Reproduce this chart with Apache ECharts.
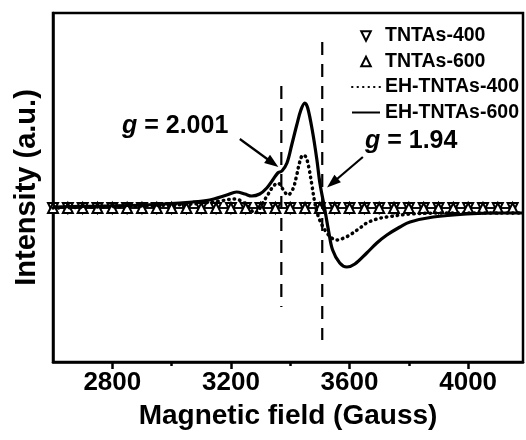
<!DOCTYPE html>
<html>
<head>
<meta charset="utf-8">
<script src="https://cdn.jsdelivr.net/npm/echarts@6/dist/echarts.min.js"></script>
<style>
  html, body { margin: 0; padding: 0; background: #fff; }
  #chart { width: 526px; height: 440px; }
</style>
</head>
<body>
<div id="chart"></div>
<script>
// EPR spectra: intensity (a.u.) versus magnetic field (Gauss)

// Reference samples (flat, no signal), one marker every 50 G
const fieldTNTAs = [2600, 2650, 2700, 2750, 2800, 2850, 2900, 2950, 3000, 3050, 3100, 3150,
  3200, 3250, 3300, 3350, 3400, 3450, 3500, 3550, 3600, 3650, 3700, 3750, 3800, 3850,
  3900, 3950, 4000, 4050, 4100, 4150];
const intTNTAs400 = [0, 0, 0, 0, 0, 0, 0, 0, 0, 0, 0, 0, 0, 0, 0, 0, 0, 0, 0, 0, 0, 0, 0, 0, 0, 0, 0, 0, 0, 0, 0, 0];
const intTNTAs600 = [0, 0, 0, 0, 0, 0, 0, 0, 0, 0, 0, 0, 0, 0, 0, 0, 0, 0, 0, 0, 0, 0, 0, 0, 0, 0, 0, 0, 0, 0, 0, 0];

// EH-TNTAs-400
const fieldEH400 = [2600, 2757, 2902, 3071, 3163, 3213, 3240, 3263, 3280, 3294, 3307, 3324,
  3341, 3358, 3375, 3392, 3409, 3422, 3432, 3443, 3453, 3463, 3473, 3483, 3493, 3507,
  3524, 3540, 3557, 3581, 3601, 3635, 3658, 3692, 3726, 3804, 3939, 4107, 4185];
const intEH400 = [0, 1, 2, 4, 7, 9, 6, 0, -5, -2, 5, 13,
  21, 25, 19, 13, 19, 33, 46, 53, 51, 40, 23, 5, -7, -17,
  -25, -30, -32, -30, -27, -20, -15, -11, -9, -6, -5, -5, -5];

// EH-TNTAs-600
const fieldEH600 = [2600, 2757, 2902, 3071, 3128, 3186, 3219, 3247, 3270, 3297, 3321, 3341,
  3358, 3372, 3389, 3405, 3422, 3436, 3449, 3459, 3476, 3490, 3500, 3517, 3530, 3543,
  3567, 3591, 3618, 3658, 3692, 3726, 3770, 3804, 3882, 3996, 4107, 4185];
const intEH600 = [1, 2, 3, 6, 8, 13, 16, 14, 12, 14, 20, 28,
  35, 37, 45, 63, 83, 98, 105, 100, 75, 48, 25, -2, -24, -42,
  -55, -59, -56, -45, -35, -27, -19, -14, -9, -6, -5, -5];

// g-factor guide lines (field, intensity span)
const gLineField = [3370, 3508];
const gLineTop = [122, 166];
const gLineBottom = [-99, -132];

// Annotation arrows: [fromField, fromInt, toField, toInt]
const arrowLeft = [3230, 69, 3341, 45];
const arrowRight = [3645, 51, 3542, 25];

const majorTicks = [2800, 3200, 3600, 4000];
const minorTicks = [3000, 3400, 3800];

const FONT = '"Liberation Sans", Arial, Helvetica, sans-serif';
const zip = (xs, ys) => xs.map((x, i) => [x, ys[i]]);

function arrowMarkLine(a) {
  return {
    silent: true,
    symbol: ['none', 'triangle'],
    symbolSize: [10, 14],
    label: { show: false },
    lineStyle: { color: '#000', width: 2.2, type: 'solid' },
    data: [[{ coord: [a[0], a[1]] }, { coord: [a[2], a[3]] }]]
  };
}

const chart = echarts.init(document.getElementById('chart'));
chart.setOption({
  animation: false,
  backgroundColor: '#fff',
  grid: {
    left: 53, right: 3, top: 13, bottom: 78,
    show: true, borderColor: '#000', borderWidth: 2.5,
    outerBoundsMode: 'none', containLabel: false
  },
  legend: {
    orient: 'vertical',
    left: 346, top: 21,
    itemGap: 5.5, itemWidth: 28, itemHeight: 12,
    selectedMode: false,
    textStyle: { fontFamily: FONT, fontSize: 19.5, fontWeight: 'bold', color: '#000' },
    data: [
      { name: 'TNTAs-400', lineStyle: { opacity: 0, width: 0 } },
      { name: 'TNTAs-600', lineStyle: { opacity: 0, width: 0 } },
      { name: 'EH-TNTAs-400', itemStyle: { opacity: 0 } },
      { name: 'EH-TNTAs-600', itemStyle: { opacity: 0 } }
    ]
  },
  xAxis: [
    {
      type: 'value', min: 2600, max: 4185, position: 'bottom',
      axisLine: { show: true, onZero: false, lineStyle: { color: '#000', width: 2.5 } },
      axisTick: { show: true, customValues: majorTicks, length: 7, lineStyle: { color: '#000', width: 2.5 } },
      axisLabel: {
        customValues: majorTicks, margin: 8, color: '#000',
        fontFamily: FONT, fontSize: 26, fontWeight: 'bold',
        formatter: (v) => String(v)
      },
      splitLine: { show: false },
      name: 'Magnetic field (Gauss)', nameLocation: 'middle', nameGap: 40,
      nameTextStyle: { fontFamily: FONT, fontSize: 28, fontWeight: 'bold', color: '#000' }
    },
    {
      type: 'value', min: 2600, max: 4185, position: 'bottom',
      axisLine: { show: false, onZero: false },
      axisTick: { show: true, customValues: minorTicks, length: 4, lineStyle: { color: '#000', width: 2.5 } },
      axisLabel: { show: false },
      splitLine: { show: false }
    }
  ],
  yAxis: {
    type: 'value', min: -154, max: 195,
    axisLine: { show: true, onZero: false, lineStyle: { color: '#000', width: 2.5 } },
    axisTick: { show: false },
    axisLabel: { show: false },
    splitLine: { show: false },
    name: 'Intensity (a.u.)', nameLocation: 'middle', nameGap: 12,
    nameTextStyle: { fontFamily: FONT, fontSize: 29, fontWeight: 'bold', color: '#000' }
  },
  series: [
    {
      name: 'TNTAs-400', type: 'line', z: 2,
      data: zip(fieldTNTAs, intTNTAs400),
      symbol: 'emptyTriangle', symbolRotate: 180, symbolSize: 10, showSymbol: true,
      lineStyle: { color: '#000', width: 1.5 },
      itemStyle: { color: '#000', borderWidth: 1.5 }
    },
    {
      name: 'TNTAs-600', type: 'line', z: 2,
      data: zip(fieldTNTAs, intTNTAs600),
      symbol: 'emptyTriangle', symbolSize: 10, showSymbol: true,
      lineStyle: { color: '#000', width: 1.5 },
      itemStyle: { color: '#000', borderWidth: 1.5 }
    },
    {
      name: 'EH-TNTAs-400', type: 'line', z: 3,
      data: zip(fieldEH400, intEH400),
      symbol: 'none', smooth: 0.35,
      lineStyle: { color: '#000', width: 3.5, type: [0.5, 5], cap: 'round' },
      itemStyle: { color: '#000' }
    },
    {
      name: 'EH-TNTAs-600', type: 'line', z: 4,
      data: zip(fieldEH600, intEH600),
      symbol: 'none', smooth: 0.35,
      lineStyle: { color: '#000', width: 3.2 },
      itemStyle: { color: '#000' }
    },
    {
      name: 'g = 2.001', type: 'line', z: 5, silent: true,
      data: [[gLineField[0], gLineTop[0]], [gLineField[0], gLineBottom[0]]],
      symbol: 'none',
      lineStyle: { color: '#000', width: 2.2, type: [13, 9] },
      markLine: arrowMarkLine(arrowLeft)
    },
    {
      name: 'g = 1.94', type: 'line', z: 5, silent: true,
      data: [[gLineField[1], gLineTop[1]], [gLineField[1], gLineBottom[1]]],
      symbol: 'none',
      lineStyle: { color: '#000', width: 2.2, type: [13, 9] },
      markLine: arrowMarkLine(arrowRight)
    }
  ],
  graphic: [
    {
      type: 'text', left: 122, top: 114, z: 10,
      style: {
        text: '{i|g}{n| = 2.001}',
        rich: {
          i: { fontFamily: FONT, fontSize: 25, fontWeight: 'bold', fontStyle: 'italic', fill: '#000' },
          n: { fontFamily: FONT, fontSize: 25, fontWeight: 'bold', fill: '#000' }
        }
      }
    },
    {
      type: 'text', left: 365, top: 129, z: 10,
      style: {
        text: '{i|g}{n| = 1.94}',
        rich: {
          i: { fontFamily: FONT, fontSize: 25, fontWeight: 'bold', fontStyle: 'italic', fill: '#000' },
          n: { fontFamily: FONT, fontSize: 25, fontWeight: 'bold', fill: '#000' }
        }
      }
    }
  ]
});
</script>
</body>
</html>
